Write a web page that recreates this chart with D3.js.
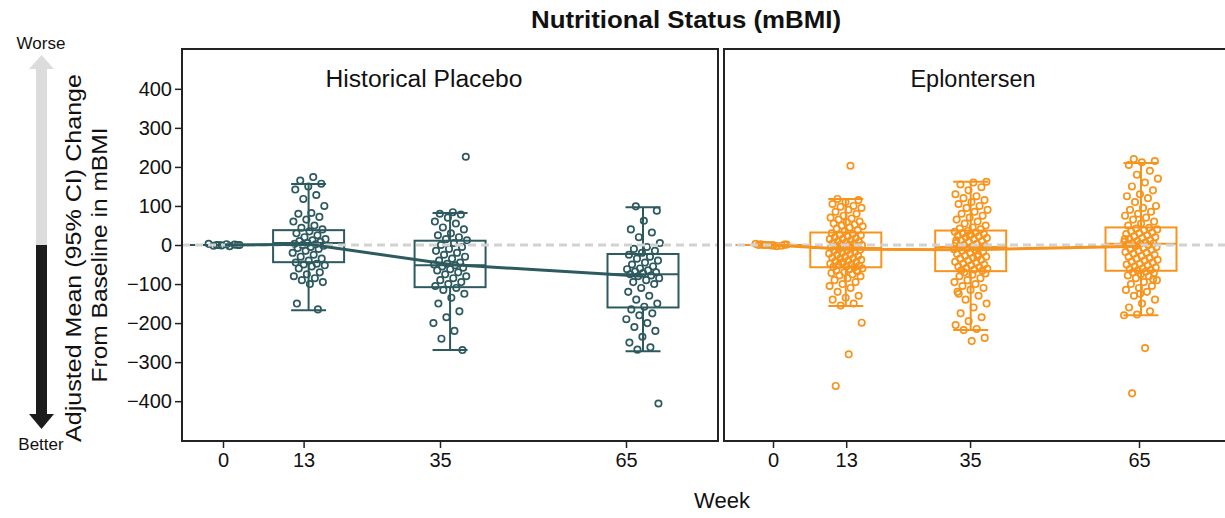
<!DOCTYPE html>
<html><head><meta charset="utf-8">
<script src="https://cdn.jsdelivr.net/npm/d3@7"></script>
<style>
html,body{margin:0;padding:0;background:#fff;}
text{font-family:"Liberation Sans",Arial,sans-serif;fill:#111;}
</style></head>
<body><svg id="c" width="1225" height="518"></svg>
<script>
// ---------- data ----------
const weeks = [0, 13, 35, 65];
const weekLabels = ["0", "13", "35", "65"];
const yTicks = [-400, -300, -200, -100, 0, 100, 200, 300, 400];
const panelTitles = ["Historical Placebo", "Eplontersen"];

// box statistics per week: [whiskerLow, q1, median, q3, whiskerHigh]
const placeboBoxes = [[0,0,0,0,0],[-167,-44,5,38,156],[-269,-108,-52,11,82],[-272,-160,-75,-23,97]];
const eploBoxes    = [[0,0,0,0,0],[-156,-57,-8,32,118],[-218,-67,-5,37,162],[-180,-66,3,45,210]];

// adjusted means
const placeboMeans = [0, 2, -50, -80];
const eploMeans    = [0, -11, -12, -3];

// individual patient values
const placeboW0  = [0,0,2,-2,1,-1,3,-3,0,0];
const placeboW13 = [174,165,157,150,142,128,118,100,82,80,72,65,60,50,44,40,35,30,25,20,15,12,10,8,5,3,2,0,-2,-5,-8,-10,-15,-20,-25,-30,-35,-40,-45,-48,-50,-52,-55,-60,-70,-75,-80,-85,-90,-95,-100,-150,-165];
const placeboW35 = [226,84,80,78,70,60,55,45,40,30,25,20,15,12,5,0,-5,-10,-15,-20,-25,-30,-35,-40,-45,-48,-50,-52,-55,-58,-62,-65,-70,-75,-80,-85,-90,-95,-100,-105,-110,-115,-125,-135,-150,-170,-185,-200,-220,-240,-269];
const placeboW65 = [99,88,62,40,32,20,5,-5,-10,-15,-20,-25,-30,-35,-40,-45,-50,-55,-60,-62,-65,-68,-70,-72,-75,-78,-80,-85,-90,-95,-100,-110,-120,-130,-140,-150,-158,-165,-175,-180,-190,-200,-210,-220,-235,-250,-262,-268,-406];
const eploW0  = [0,1,-1,2,-2,0,3,-3,0,1,-1,0];
const eploW13 = [203,118,115,110,105,100,98,95,90,85,80,75,70,68,65,60,58,55,52,50,48,45,42,38,35,
  30,28,26,25,22,20,18,16,15,12,10,8,6,5,3,2,0,0,-2,-3,-5,-6,-8,-10,-12,-14,-15,-18,-20,-22,-24,-25,-28,-30,-32,-34,-35,-38,-40,-42,-44,-45,-48,-50,-52,-53,-55,-56,-57,-45,
  -60,-62,-65,-68,-70,-72,-75,-78,-80,-85,-90,-95,-100,-105,-110,-120,-130,-135,-140,-150,-155,-199,-280,-361,-65];
const eploW35 = [162,160,155,148,140,130,125,120,115,110,105,100,95,90,85,80,75,70,65,60,55,50,45,42,40,
  36,34,32,30,28,26,24,22,20,18,15,12,10,8,5,3,0,-2,-4,-5,-7,-9,-11,-13,-15,-18,-20,-23,-25,-28,-30,-33,-35,-38,-40,-43,-45,-48,-50,-52,-55,-57,-59,-61,-63,-65,-66,25,12,-30,
  -70,-73,-76,-80,-85,-90,-95,-100,-105,-110,-115,-120,-130,-140,-150,-160,-175,-185,-195,-205,-215,-218,-238,-246,-125];
const eploW65 = [220,215,212,205,190,180,170,160,150,140,130,125,120,110,100,95,90,85,80,75,70,65,60,55,50,
  44,42,40,38,35,32,30,28,25,22,20,18,15,12,10,8,6,5,4,3,2,0,-3,-5,-8,-10,-12,-15,-18,-20,-22,-25,-28,-30,-33,-35,-38,-40,-43,-45,-48,-50,-52,-55,-58,-60,-62,-64,-65,15,
  -68,-70,-72,-75,-78,-80,-85,-90,-95,-100,-105,-110,-115,-120,-130,-140,-150,-160,-170,-178,-180,-264,-380,-88,-125];

const placeboPoints = [placeboW0, placeboW13, placeboW35, placeboW65];
const eploPoints = [eploW0, eploW13, eploW35, eploW65];

// ---------- layout ----------
const svg = d3.select("#c");
const TOP = 49, BOT = 441;
const y = d3.scaleLinear().domain([-502, 502]).range([BOT, TOP]);
const teal = "#2d5a5f", orange = "#f7941d";

const panels = [
  {x0: 182, x1: 718, xd: d3.scaleLinear().domain([0,65]).range([225,643]),
   xt: d3.scaleLinear().domain([0,65]).range([223,626]),
   title: panelTitles[0], tx: 424, tl: 197, color: teal, boxes: placeboBoxes, means: placeboMeans, pts: placeboPoints},
  {x0: 724, x1: 1262, xd: d3.scaleLinear().domain([0,65]).range([772,1141]),
   xt: d3.scaleLinear().domain([0,65]).range([773,1139]),
   title: panelTitles[1], tx: 973, tl: 125, color: orange, boxes: eploBoxes, means: eploMeans, pts: eploPoints}
];

// title
svg.append("text").attr("x", 686).attr("y", 28).attr("text-anchor","middle")
  .attr("font-size", 24).attr("font-weight","bold").attr("textLength", 310)
  .attr("lengthAdjust","spacingAndGlyphs").text("Nutritional Status (mBMI)");

const jitter = i => 17 * (2 * (((i * 0.618034 + 0.31) % 1)) - 1);

panels.forEach((p, pi) => {
  const g = svg.append("g");
  const cp = "clip" + pi;
  svg.append("clipPath").attr("id", cp).append("rect")
    .attr("x", p.x0).attr("y", TOP).attr("width", p.x1 - p.x0).attr("height", BOT - TOP);
  const inner = g.append("g").attr("clip-path", `url(#${cp})`);

  // boxes
  const bw = 71, cw = 35;
  p.boxes.forEach((b, i) => {
    const xc = p.xd(weeks[i]);
    const bg = inner.append("g").attr("stroke", p.color).attr("stroke-width", 2).attr("fill","none");
    bg.append("line").attr("x1", xc).attr("x2", xc).attr("y1", y(b[4])).attr("y2", y(b[3]));
    bg.append("line").attr("x1", xc).attr("x2", xc).attr("y1", y(b[1])).attr("y2", y(b[0]));
    bg.append("line").attr("x1", xc - cw/2).attr("x2", xc + cw/2).attr("y1", y(b[4])).attr("y2", y(b[4]));
    bg.append("line").attr("x1", xc - cw/2).attr("x2", xc + cw/2).attr("y1", y(b[0])).attr("y2", y(b[0]));
    bg.append("rect").attr("x", xc - bw/2).attr("width", bw).attr("y", y(b[3])).attr("height", Math.max(0.01, y(b[1]) - y(b[3])));
    bg.append("line").attr("x1", xc - bw/2).attr("x2", xc + bw/2).attr("y1", y(b[2])).attr("y2", y(b[2]));
  });

  // points
  p.pts.forEach((arr, i) => {
    const xc = p.xd(weeks[i]);
    inner.append("g").selectAll("circle").data(arr).join("circle")
      .attr("cx", (d, k) => xc + jitter(k + i * 7))
      .attr("cy", d => y(d)).attr("r", 3.2)
      .attr("fill", "none").attr("stroke", p.color).attr("stroke-width", 1.7);
  });

  // zero reference line
  inner.append("line").attr("x1", p.x0).attr("x2", p.x1).attr("y1", y(0)).attr("y2", y(0))
    .attr("stroke", "#d2d2d2").attr("stroke-width", 3).attr("stroke-dasharray", "8,5");

  // mean line
  const line = d3.line().x((d, i) => p.xd(weeks[i])).y(d => y(d)).curve(d3.curveLinear);
  inner.append("path").datum(p.means).attr("d", line)
    .attr("fill","none").attr("stroke", p.color).attr("stroke-width", 3).attr("stroke-linejoin","round");

  // frame
  g.append("rect").attr("x", p.x0).attr("y", TOP).attr("width", p.x1 - p.x0).attr("height", BOT - TOP)
    .attr("fill","none").attr("stroke","#222").attr("stroke-width", 2);

  // panel title
  g.append("text").attr("x", p.tx).attr("y", 87).attr("text-anchor","middle")
    .attr("font-size", 23).attr("textLength", p.tl).attr("lengthAdjust","spacingAndGlyphs").text(p.title);

  // x axis
  const xa = g.append("g").attr("transform", `translate(0,${BOT + 1})`)
    .call(d3.axisBottom(p.xt).tickValues(weeks).tickFormat((d, i) => weekLabels[i]).tickSize(6).tickPadding(5));
  xa.select(".domain").remove();
  xa.selectAll("line").attr("stroke","#222").attr("stroke-width", 1.5);
  xa.selectAll("text").attr("font-size", 20).attr("fill","#111").style("font-family", '"Liberation Sans",Arial,sans-serif');
});

// y axis
const ya = svg.append("g").attr("transform", "translate(181,0)")
  .call(d3.axisLeft(y).tickValues(yTicks).tickFormat(d3.format("d")).tickSize(6).tickPadding(3));
ya.select(".domain").remove();
ya.selectAll("line").attr("stroke","#222").attr("stroke-width", 1.5);
ya.selectAll("text").attr("font-size", 20).attr("fill","#111").style("font-family", '"Liberation Sans",Arial,sans-serif');

// x label
svg.append("text").attr("x", 722).attr("y", 508).attr("text-anchor","middle").attr("font-size", 22).text("Week");

// y label (two lines)
svg.append("text").attr("transform", "translate(81,258) rotate(-90)").attr("text-anchor","middle")
  .attr("font-size", 22).attr("textLength", 368).attr("lengthAdjust","spacingAndGlyphs")
  .text("Adjusted Mean (95% CI) Change");
svg.append("text").attr("transform", "translate(107,255) rotate(-90)").attr("text-anchor","middle")
  .attr("font-size", 22).attr("textLength", 255).attr("lengthAdjust","spacingAndGlyphs")
  .text("From Baseline in mBMI");

// worse / better arrow
svg.append("rect").attr("x", 36).attr("y", 67).attr("width", 11).attr("height", 245 - 67).attr("fill", "#dcdcdc");
svg.append("path").attr("d", "M41.5,55 L29,69 L54,69 Z").attr("fill", "#dcdcdc");
svg.append("rect").attr("x", 36).attr("y", 245).attr("width", 11).attr("height", 415 - 245).attr("fill", "#1c1c1c");
svg.append("path").attr("d", "M41.5,429 L29,414 L54,414 Z").attr("fill", "#1c1c1c");
svg.append("text").attr("x", 41).attr("y", 49).attr("text-anchor","middle").attr("font-size", 17).text("Worse");
svg.append("text").attr("x", 41).attr("y", 450).attr("text-anchor","middle").attr("font-size", 17).text("Better");
</script></body></html>
